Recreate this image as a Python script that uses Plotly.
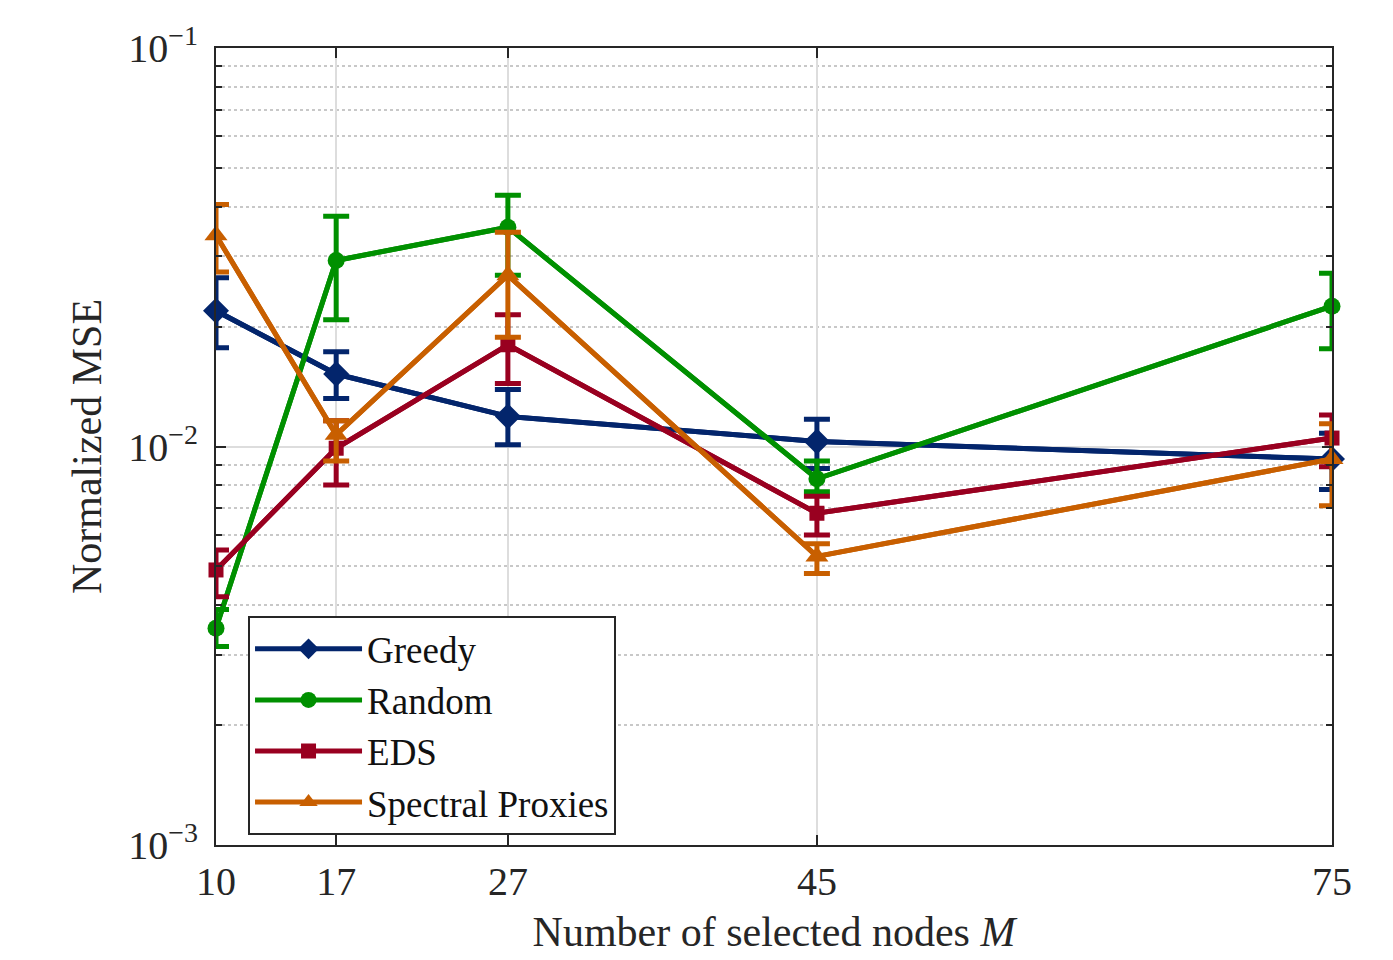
import plotly.graph_objects as go

M = [10, 17, 27, 45, 75]

greedy = [0.0219, 0.0152, 0.0119, 0.0103, 0.0093]
greedy_hi = [0.0265, 0.0173, 0.0139, 0.0117, 0.0108]
greedy_lo = [0.0177, 0.0132, 0.0101, 0.0088, 0.0078]

random_ = [0.0035, 0.0293, 0.0355, 0.0083, 0.0225]
random_hi = [0.0039, 0.0378, 0.0427, 0.0092, 0.0272]
random_lo = [0.00315, 0.0208, 0.0269, 0.0077, 0.0176]

eds = [0.0049, 0.0099, 0.0180, 0.0068, 0.0105]
eds_hi = [0.0055, 0.0116, 0.0214, 0.0075, 0.0120]
eds_lo = [0.0042, 0.0080, 0.0144, 0.0060, 0.0089]

spec = [0.0339, 0.0107, 0.0269, 0.0053, 0.0093]
spec_hi = [0.0405, 0.0116, 0.0345, 0.0057, 0.0114]
spec_lo = [0.0274, 0.0092, 0.0188, 0.0048, 0.0071]

names = ["Greedy", "Random", "EDS", "Spectral Proxies"]
colors = ["#03256C", "#009000", "#990020", "#C85F00"]
symbols = ["diamond", "circle", "square", "triangle-up"]
sizes = [20, 17, 15, 20]

series = [(greedy, greedy_hi, greedy_lo), (random_, random_hi, random_lo),
          (eds, eds_hi, eds_lo), (spec, spec_hi, spec_lo)]

y_major = [0.001, 0.01, 0.1]
y_major_text = ["10<sup>−3</sup>", "10<sup>−2</sup>", "10<sup>−1</sup>"]
y_minor = [k * 1e-3 for k in range(2, 10)] + [k * 1e-2 for k in range(2, 10)]

FONT = "Liberation Serif"
TXT = "#262626"

fig = go.Figure()
for name, col, sym, sz, (v, hi, lo) in zip(names, colors, symbols, sizes, series):
    fig.add_trace(go.Scatter(
        x=M, y=v, mode="lines", showlegend=False, cliponaxis=True,
        line=dict(color=col, width=5),
        error_y=dict(type="data", symmetric=False,
                     array=[h - a for h, a in zip(hi, v)],
                     arrayminus=[a - l for a, l in zip(v, lo)],
                     color=col, thickness=5, width=13),
    ))
    fig.add_trace(go.Scatter(
        x=M, y=v, mode="lines+markers", name=name, cliponaxis=False,
        line=dict(color=col, width=5),
        marker=dict(symbol=sym, size=sz, color=col, line=dict(width=0)),
    ))

fig.update_layout(
    width=1393, height=960,
    paper_bgcolor="white", plot_bgcolor="white",
    margin=dict(l=208, r=69, t=37, b=123),
    font=dict(family=FONT, size=40, color=TXT),
    legend=dict(x=0.0287, y=0.287, xanchor="left", yanchor="top",
                bordercolor=TXT, borderwidth=2, bgcolor="white",
                font=dict(family=FONT, size=37, color="#111111"),
                tracegroupgap=0, itemwidth=107),
)
fig.update_xaxes(
    range=[10, 75], tickvals=M, ticktext=[str(m) for m in M],
    showline=True, linecolor=TXT, linewidth=2, mirror="allticks",
    ticks="inside", ticklen=10, tickcolor=TXT, tickwidth=2,
    showgrid=True, gridcolor="#DDDDDD", gridwidth=1.5, zeroline=False,
    tickfont=dict(family=FONT, size=40, color=TXT),
    title=dict(text="Number of selected nodes <i>M</i>", standoff=14,
               font=dict(family=FONT, size=42, color=TXT)),
)
fig.update_yaxes(
    type="log", range=[-3, -1],
    tickvals=y_major, ticktext=y_major_text,
    showline=True, linecolor=TXT, linewidth=2, mirror="allticks",
    ticks="inside", ticklen=10, tickcolor=TXT, tickwidth=2,
    showgrid=True, gridcolor="#DDDDDD", gridwidth=1.5, zeroline=False,
    tickfont=dict(family=FONT, size=40, color=TXT),
    ticklabelstandoff=8,
    minor=dict(tickvals=y_minor, ticks="inside", ticklen=6, tickcolor=TXT, tickwidth=2,
               showgrid=True, gridcolor="#C8C8C8", griddash="dot", gridwidth=1.5),
    title=dict(text="Normalized MSE", standoff=14,
               font=dict(family=FONT, size=42, color=TXT)),
)

fig.write_html("out.html")
